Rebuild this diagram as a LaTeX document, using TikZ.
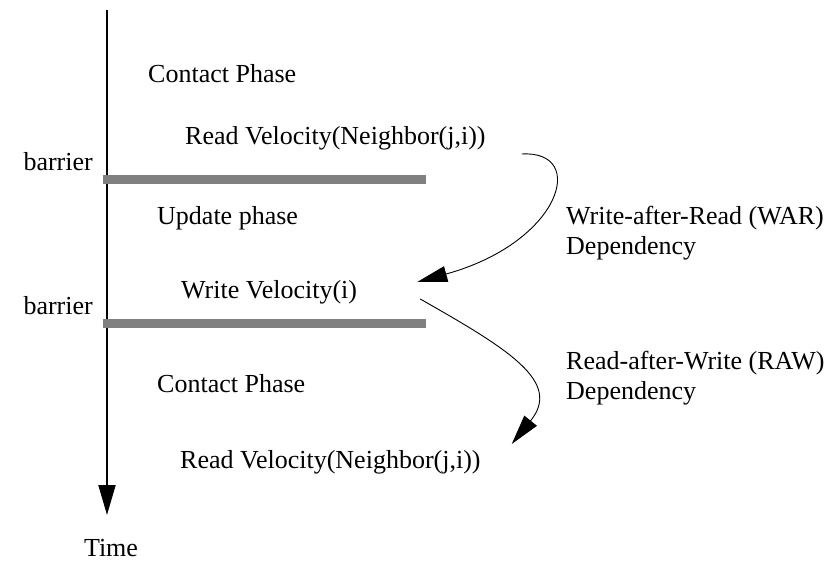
\documentclass[tikz,border=0pt]{standalone}
\usepackage{fontspec}
\setmainfont{Liberation Serif}
\usetikzlibrary{arrows.meta}
\begin{document}
\begin{tikzpicture}[x=1pt,y=-1pt,
  lbl/.style={inner sep=0pt,font=\fontsize{26}{30}\selectfont,align=left},
  barline/.style={draw=gray,line width=9pt},
  axis/.style={line width=2pt,-{Triangle[length=30pt,width=17pt]}},
  dep/.style={line width=0.9pt,-{Triangle[length=30pt,width=16pt]}}]
\useasboundingbox (0,0) rectangle (832,563);

% time axis
\coordinate (top) at (107,10);
\node[lbl] (time) at (111,548) {Time};
\draw[axis] (top) -- (107,515) coordinate (tip);

% barriers
\node[lbl,anchor=east] (b1) at (93,162) {barrier};
\node[lbl,anchor=east] (b2) at (93,306) {barrier};
\draw[barline] (103,179) -- (426,179);
\draw[barline] (103,323) -- (426,323);

% phases
\node[lbl,anchor=west] (c1) at (148,74) {Contact Phase};
\node[lbl,anchor=west] (r1) at (185,138) {Read Velocity(Neighbor(j,i))};
\node[lbl,anchor=west] (up) at (157,218) {Update phase};
\node[lbl,anchor=west] (w1) at (181,292) {Write Velocity(i)};
\node[lbl,anchor=west] (c2) at (157,384) {Contact Phase};
\node[lbl,anchor=west] (r2) at (180,462) {Read Velocity(Neighbor(j,i))};

% dependency labels
\node[lbl,anchor=west] (war) at (566,233) {Write-after-Read (WAR)\\Dependency};
\node[lbl,anchor=west] (raw) at (566,378) {Read-after-Write (RAW)\\Dependency};

% dependency arrows
\draw[dep] ([shift={(36,16)}]r1.east) .. controls (588,150) and (562,242) .. ([shift={(60,-10)}]w1.east);
\draw[dep] ([shift={(63,7)}]w1.east) .. controls (510,350) and (562,382) .. ([shift={(31,-18)}]r2.east);
\end{tikzpicture}
\end{document}
